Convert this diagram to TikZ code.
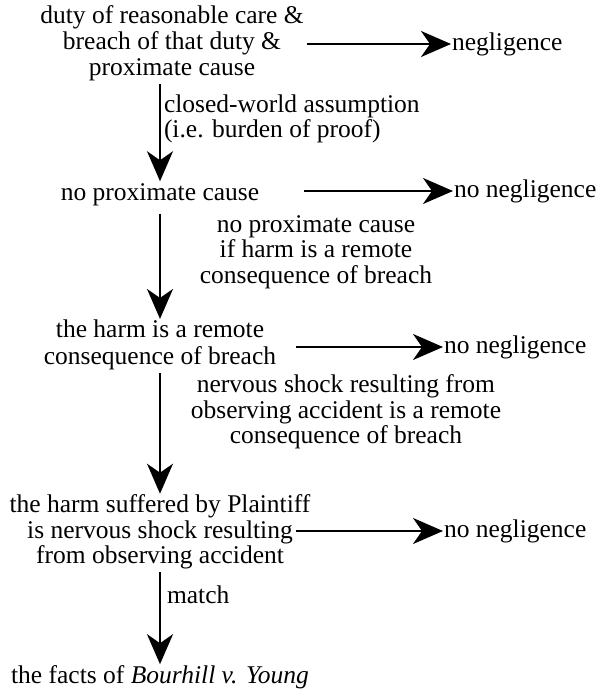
\documentclass[tikz,border=0pt]{standalone}
\usepackage{fontspec}
\setmainfont{Liberation Serif}
\usetikzlibrary{arrows.meta}
\begin{document}
\begin{tikzpicture}[x=1pt,y=-1pt,
  every node/.style={inner sep=1pt, outer sep=0pt,
    font=\fontsize{25.5}{25.5}\selectfont},
  stmt/.style={align=center},
  lbl/.style={align=center},
  lbll/.style={align=left, anchor=west},
  res/.style={anchor=west},
  arr/.style={line width=2pt, -{Stealth[length=30pt,width=26pt,inset=9pt]}}]
  \useasboundingbox (0,0) rectangle (598,690);

  % statements in the chain of reasoning
  \node[stmt] (A) at (172,44) {\strut duty of reasonable care \&\\breach of that duty \&\\proximate cause\strut};
  \node[stmt] (B) at (160,195) {\strut no proximate cause\strut};
  \node[stmt] (C) at (160,346) {\strut the harm is a remote\\consequence of breach\strut};
  \node[stmt] (D) at (160,533) {\strut the harm suffered by Plaintiff\\is nervous shock resulting\\from observing accident\strut};
  \node[stmt] (E) at (160,678) {\strut the facts of \textit{Bourhill v. Young}\strut};

  % conclusions on the right
  \node[res] (NA) at (451,44) {negligence};
  \node[res] (NB) at (453,191) {no negligence};
  \node[res] (NC) at (443,347) {no negligence};
  \node[res] (ND) at (443,531) {no negligence};

  % starts of the horizontal arrows
  \coordinate (a0) at (307,44);
  \coordinate (b0) at (304,191);
  \coordinate (c0) at (296,347);
  \coordinate (d0) at (296,531);

  % labels beside the vertical arrows
  \node[lbll] (L1) at (163,119) {closed-world assumption\\(i.e. burden of proof)};
  \node[lbl] (L2) at (316,252) {no proximate cause\\if harm is a remote\\consequence of breach};
  \node[lbl] (L3) at (346,412) {nervous shock resulting from\\observing accident is a remote\\consequence of breach};
  \node[lbll] (L4) at (166,595) {match};

  % horizontal arrows
  \draw[arr] (a0) -- (NA.west |- a0);
  \draw[arr] (b0) -- (NB.west |- b0);
  \draw[arr] (c0) -- (NC.west |- c0);
  \draw[arr] (d0) -- (ND.west |- d0);

  % vertical arrows
  \draw[arr] (A.south -| B.north) -- (B.north);
  \draw[arr, shorten <=5pt] (B.south) -- (C.north);
  \draw[arr] (C.south) -- (D.north);
  \draw[arr] (D.south) -- (E.north);
\end{tikzpicture}
\end{document}
